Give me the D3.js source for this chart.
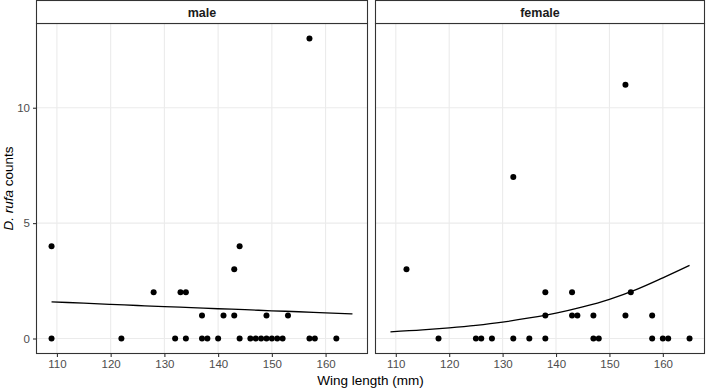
<!DOCTYPE html>
<html>
<head>
<meta charset="utf-8">
<script src="https://cdn.jsdelivr.net/npm/d3@7"></script>
<style>
  html, body { margin: 0; padding: 0; background: #fff; }
  svg { display: block; font-family: "Liberation Sans", Arial, sans-serif; }
</style>
</head>
<body>
<div id="chart"></div>
<script>
// ── Data ──────────────────────────────────────────────────────
const panels = ['male', 'female'];

// male observations: [wing length, count]
const maleWing   = [109, 122, 132, 134, 137, 138, 140, 144, 146, 147, 148, 149, 150, 151, 152, 157, 158, 162,
                    137, 141, 143, 149, 153, 128, 133, 134, 143, 109, 144, 157];
const maleCounts = [0, 0, 0, 0, 0, 0, 0, 0, 0, 0, 0, 0, 0, 0, 0, 0, 0, 0,
                    1, 1, 1, 1, 1, 2, 2, 2, 3, 4, 4, 13];

const femaleWing   = [118, 125, 126, 128, 132, 135, 138, 147, 148, 158, 160, 161, 165,
                      138, 143, 144, 147, 153, 158, 138, 143, 154, 112, 132, 153];
const femaleCounts = [0, 0, 0, 0, 0, 0, 0, 0, 0, 0, 0, 0, 0,
                      1, 1, 1, 1, 1, 1, 2, 2, 2, 3, 7, 11];

// fitted curves, read at a few wing lengths
const fitWing    = [109, 115, 120, 125, 130, 135, 140, 145, 150, 155, 160, 165];
const maleFit    = [1.59, 1.53, 1.48, 1.43, 1.38, 1.34, 1.29, 1.25, 1.20, 1.16, 1.11, 1.07];
const femaleFit  = [0.29, 0.37, 0.46, 0.57, 0.71, 0.89, 1.10, 1.37, 1.70, 2.12, 2.63, 3.17];

const xTicks = [110, 120, 130, 140, 150, 160];
const yTicks = [0, 5, 10];

// ── Layout ────────────────────────────────────────────────────
const W = 706, H = 389;
const stripTop = 0.5, stripH = 23;
const panelTop = stripTop + stripH, panelBottom = 353.5;
const panelX = [[36.5, 367.5], [375.5, 704.5]];

const svg = d3.select('#chart').append('svg')
  .attr('width', W).attr('height', H);

const allX = maleWing.concat(femaleWing);
const xMin = d3.min(allX), xMax = d3.max(allX);
const xPad = (xMax - xMin) * 0.05;
const allY = maleCounts.concat(femaleCounts);
const yMax = d3.max(allY);
const yPad = yMax * 0.05;

const y = d3.scaleLinear().domain([-yPad, yMax + yPad]).range([panelBottom, panelTop]);

const series = {
  male:   { xs: maleWing, ys: maleCounts, fit: maleFit },
  female: { xs: femaleWing, ys: femaleCounts, fit: femaleFit }
};

panels.forEach((name, i) => {
  const [x0, x1] = panelX[i];
  const x = d3.scaleLinear().domain([xMin - xPad, xMax + xPad]).range([x0, x1]);
  const g = svg.append('g');

  // grid
  g.selectAll('.gx').data(xTicks).join('line')
    .attr('x1', d => x(d)).attr('x2', d => x(d))
    .attr('y1', panelTop).attr('y2', panelBottom)
    .attr('stroke', '#ebebeb').attr('stroke-width', 1.1);
  g.selectAll('.gy').data(yTicks).join('line')
    .attr('x1', x0).attr('x2', x1)
    .attr('y1', d => y(d)).attr('y2', d => y(d))
    .attr('stroke', '#ebebeb').attr('stroke-width', 1.1);

  // points
  const s = series[name];
  g.selectAll('circle').data(s.xs.map((v, k) => [v, s.ys[k]])).join('circle')
    .attr('cx', d => x(d[0])).attr('cy', d => y(d[1]))
    .attr('r', 3).attr('fill', '#000');

  // fitted line
  const line = d3.line()
    .x(d => x(d[0])).y(d => y(d[1]))
    .curve(d3.curveMonotoneX);
  g.append('path')
    .datum(fitWing.map((v, k) => [v, s.fit[k]]))
    .attr('fill', 'none').attr('stroke', '#000').attr('stroke-width', 1.3)
    .attr('d', line);

  // panel border
  g.append('rect')
    .attr('x', x0).attr('y', panelTop)
    .attr('width', x1 - x0).attr('height', panelBottom - panelTop)
    .attr('fill', 'none').attr('stroke', '#333').attr('stroke-width', 1.1);

  // strip
  g.append('rect')
    .attr('x', x0).attr('y', stripTop)
    .attr('width', x1 - x0).attr('height', stripH)
    .attr('fill', '#fff').attr('stroke', '#333').attr('stroke-width', 1.1);
  g.append('text')
    .attr('x', (x0 + x1) / 2).attr('y', stripTop + stripH / 2 + 4.5)
    .attr('text-anchor', 'middle')
    .attr('font-size', 12.5).attr('font-weight', 'bold').attr('fill', '#1a1a1a')
    .text(name);

  // x axis
  const ax = g.append('g')
    .attr('transform', `translate(0,${panelBottom})`)
    .call(d3.axisBottom(x).tickValues(xTicks).tickSize(3.5).tickPadding(3));
  ax.select('.domain').remove();
  ax.selectAll('line').attr('stroke', '#333').attr('stroke-width', 1.1);
  ax.selectAll('text').attr('font-size', 11.5).attr('fill', '#4d4d4d')
    .attr('font-family', '"Liberation Sans", Arial, sans-serif');

  if (i === 0) {
    const ay = g.append('g')
      .attr('transform', `translate(${x0},0)`)
      .call(d3.axisLeft(y).tickValues(yTicks).tickSize(3.5).tickPadding(3));
    ay.select('.domain').remove();
    ay.selectAll('line').attr('stroke', '#333').attr('stroke-width', 1.1);
    ay.selectAll('text').attr('font-size', 11.5).attr('fill', '#4d4d4d')
      .attr('font-family', '"Liberation Sans", Arial, sans-serif');
  }
});

// axis titles
svg.append('text')
  .attr('x', (panelX[0][0] + panelX[1][1]) / 2).attr('y', 385)
  .attr('text-anchor', 'middle').attr('font-size', 13.5).attr('fill', '#000')
  .text('Wing length (mm)');

const yt = svg.append('text')
  .attr('transform', `translate(13,${(panelTop + panelBottom) / 2}) rotate(-90)`)
  .attr('text-anchor', 'middle').attr('font-size', 13.5).attr('fill', '#000');
yt.append('tspan').attr('font-style', 'italic').text('D. rufa');
yt.append('tspan').text(' counts');
</script>
</body>
</html>
